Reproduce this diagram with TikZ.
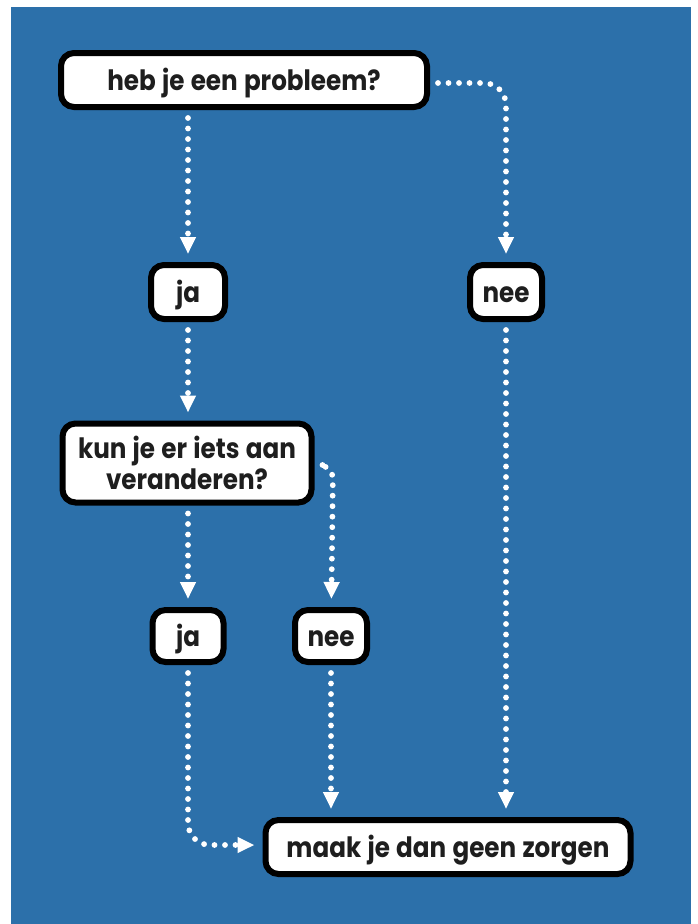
\documentclass[tikz,border=0pt]{standalone}
\usepackage{fontspec}
\setmainfont{Poppins}[FakeStretch=0.88, WordSpace=1.2]
\usetikzlibrary{arrows.meta}
\definecolor{bgblue}{RGB}{44,112,170}
\definecolor{txt}{RGB}{30,30,30}
\begin{document}
\begin{tikzpicture}[x=1pt,y=-1pt,
  box/.style={draw=black, fill=white, line width=6pt, rounded corners=13pt,
    text=txt, font=\fontsize{28}{31}\selectfont\bfseries, align=center, inner sep=0pt},
  oneline/.style={box, text height=21pt, text depth=1pt},
  dots/.style={draw=white, line width=5.8pt, dash pattern=on 0pt off 10.5pt, line cap=round,
    -{Triangle[width=15pt,length=17pt,fill=white]}, shorten >=8pt, shorten <=8pt},
  link/.style={rounded corners=22pt}]
\useasboundingbox (0,0) rectangle (697,924);
\fill[bgblue] (11,7) rectangle (691,924);
\node[oneline, minimum width=366pt, minimum height=54pt] (q1) at (244,80) {heb je een probleem?};
\node[oneline, minimum width=74pt, minimum height=54pt] (ja1) at (188,292) {ja};
\node[oneline, minimum width=72pt, minimum height=54pt] (nee1) at (506,292) {nee};
\node[box, minimum width=249pt, minimum height=79pt] (q2) at (187,463) {kun je er iets aan\\veranderen?};
\node[oneline, minimum width=71pt, minimum height=52pt] (ja2) at (188,636) {ja};
\node[oneline, minimum width=72pt, minimum height=52pt] (nee2) at (331,636) {nee};
\node[oneline, minimum width=365pt, minimum height=54pt] (end) at (448,847) {maak je dan geen zorgen};
\coordinate (c1) at (506,83);
\coordinate (c2) at (333,465);
\coordinate (c3) at (188,845);
\draw[dots] (q1.south -| ja1) -- (ja1);
\draw[dots] (ja1) -- (q2.north -| ja1);
\draw[dots] (q2.south -| ja2) -- (ja2);
\draw[dots] (nee1) -- (end.north -| nee1);
\draw[dots] (nee2) -- (end.north -| nee2);
\draw[dots, link] (q1.east |- c1) -- (c1) -- (nee1);
\draw[dots, link, rounded corners=14pt] (q2.east |- c2) -- (c2) -- (nee2);
\draw[dots, link] (ja2) -- (c3) -- (end.west |- c3);
\end{tikzpicture}
\end{document}
